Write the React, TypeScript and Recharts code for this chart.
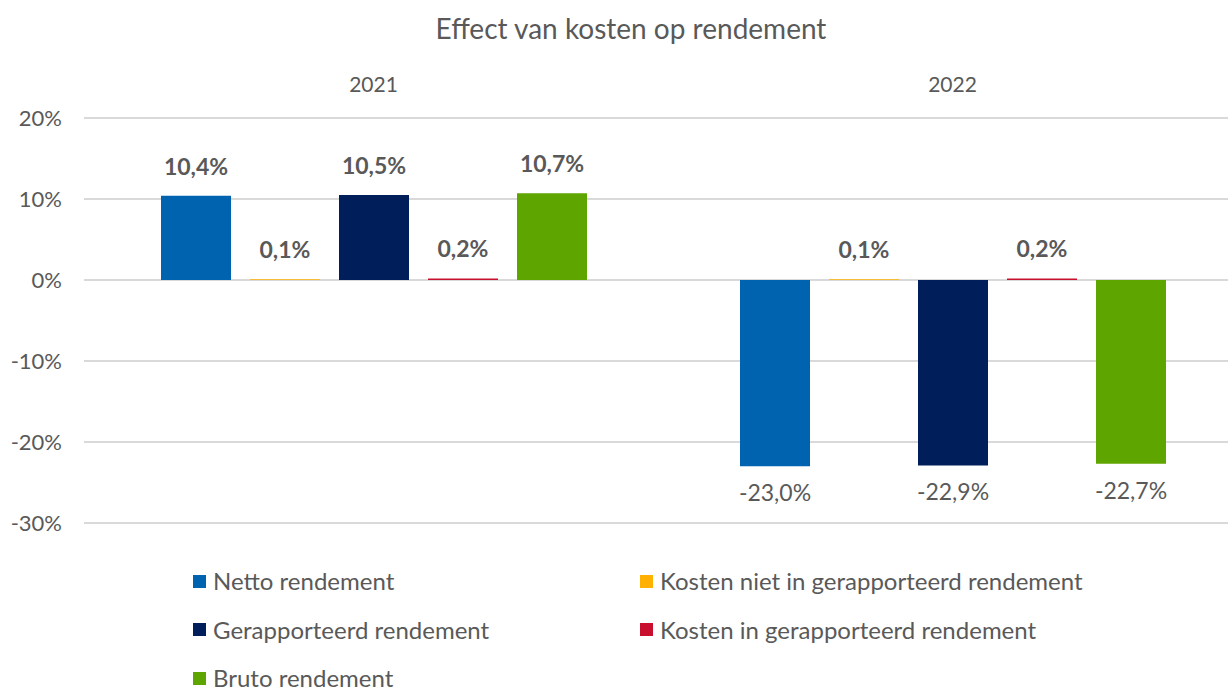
import React from 'react';
import { BarChart, Bar, XAxis, YAxis, CartesianGrid, Legend } from 'recharts';

const years = ['2021', '2022'];
const nettoRendement = [10.4, -23.0];
const kostenNietInGerapporteerd = [0.1, 0.1];
const gerapporteerdRendement = [10.5, -22.9];
const kostenInGerapporteerd = [0.2, 0.2];
const brutoRendement = [10.7, -22.7];
const yTicks = [-30, -20, -10, 0, 10, 20];

const seriesDefs = [
  { key: 'netto', name: 'Netto rendement', color: '#0063AF', values: nettoRendement },
  { key: 'kostenNiet', name: 'Kosten niet in gerapporteerd rendement', color: '#FFB000', values: kostenNietInGerapporteerd },
  { key: 'gerapporteerd', name: 'Gerapporteerd rendement', color: '#001E5A', values: gerapporteerdRendement },
  { key: 'kostenIn', name: 'Kosten in gerapporteerd rendement', color: '#C8102E', values: kostenInGerapporteerd },
  { key: 'bruto', name: 'Bruto rendement', color: '#5FA500', values: brutoRendement },
];

const data = years.map((year, i) => {
  const row: any = { year };
  seriesDefs.forEach((s) => { row[s.key] = s.values[i]; });
  return row;
});

const FONT = 'Lato, "Open Sans", sans-serif';
const TEXT = '#595959';

const fmt = (v: number) => `${v.toFixed(1).replace('.', ',')}%`;

const renderLabel = (props: any) => {
  const { x, y, width, height, value } = props;
  const v = Number(value);
  const top = Math.min(y, y + height);
  const bottom = Math.max(y, y + height);
  const cx = x + width / 2;
  const ty = v >= 0 ? top - 21 : bottom + 35;
  return (
    <text x={cx} y={ty} textAnchor="middle" fill={TEXT} fontSize={23} fontWeight={v >= 0 ? 700 : 400} fontFamily={FONT}>
      {fmt(v)}
    </text>
  );
};

const renderXTick = (props: any) => {
  const { x, y, payload } = props;
  return (
    <text x={x} y={y} textAnchor="middle" fill={TEXT} fontSize={21} fontFamily={FONT}>
      {payload.value}
    </text>
  );
};

const renderLegend = (props: any) => {
  const payload = [...(props.payload || [])].sort(
    (a: any, b: any) =>
      seriesDefs.findIndex((s) => s.name === a.value) - seriesDefs.findIndex((s) => s.name === b.value)
  );
  return (
    <div style={{ display: 'grid', gridTemplateColumns: '447px auto', gridAutoRows: '48.5px', fontFamily: FONT }}>
      {payload.map((p: any) => (
        <div key={p.value} style={{ display: 'flex', alignItems: 'center', whiteSpace: 'nowrap' }}>
          <span style={{ width: 13, height: 13, background: p.color, display: 'inline-block', marginRight: 7 }} />
          <span style={{ fontSize: 24, lineHeight: '24px', color: TEXT }}>{p.value}</span>
        </div>
      ))}
    </div>
  );
};

export default function App() {
  return (
    <div style={{ position: 'absolute', left: 0, top: 0, width: 1228, height: 692, overflow: 'hidden', background: '#fff' }}>
      <div style={{ position: 'absolute', left: 0, top: 10, width: 1262, textAlign: 'center', fontFamily: FONT, fontSize: 28, color: TEXT, lineHeight: '36px' }}>
        Effect van kosten op rendement
      </div>
      <BarChart
        width={1242}
        height={692}
        data={data}
        margin={{ top: 78, right: 0, bottom: 169, left: 0 }}
        barSize={70}
        barGap={19}
      >
        <CartesianGrid vertical={false} stroke="#D9D9D9" strokeWidth={2} />
        <XAxis
          dataKey="year"
          orientation="top"
          height={40}
          axisLine={false}
          tickLine={false}
          tickSize={0}
          tickMargin={26}
          tick={renderXTick}
        />
        <YAxis
          width={84}
          domain={[-30, 20]}
          ticks={yTicks}
          axisLine={false}
          tickLine={false}
          tickSize={0}
          tickMargin={22}
          tickFormatter={(v: number) => `${v}%`}
          tick={{ fill: TEXT, fontSize: 22, fontFamily: FONT }}
        />
        <Legend
          layout="horizontal"
          verticalAlign="middle"
          align="center"
          wrapperStyle={{ left: 193, top: 557, width: 1000, height: 146 }}
          content={renderLegend}
        />
        {seriesDefs.map((s) => (
          <Bar key={s.key} dataKey={s.key} name={s.name} fill={s.color} isAnimationActive={false} label={renderLabel} />
        ))}
      </BarChart>
    </div>
  );
}
